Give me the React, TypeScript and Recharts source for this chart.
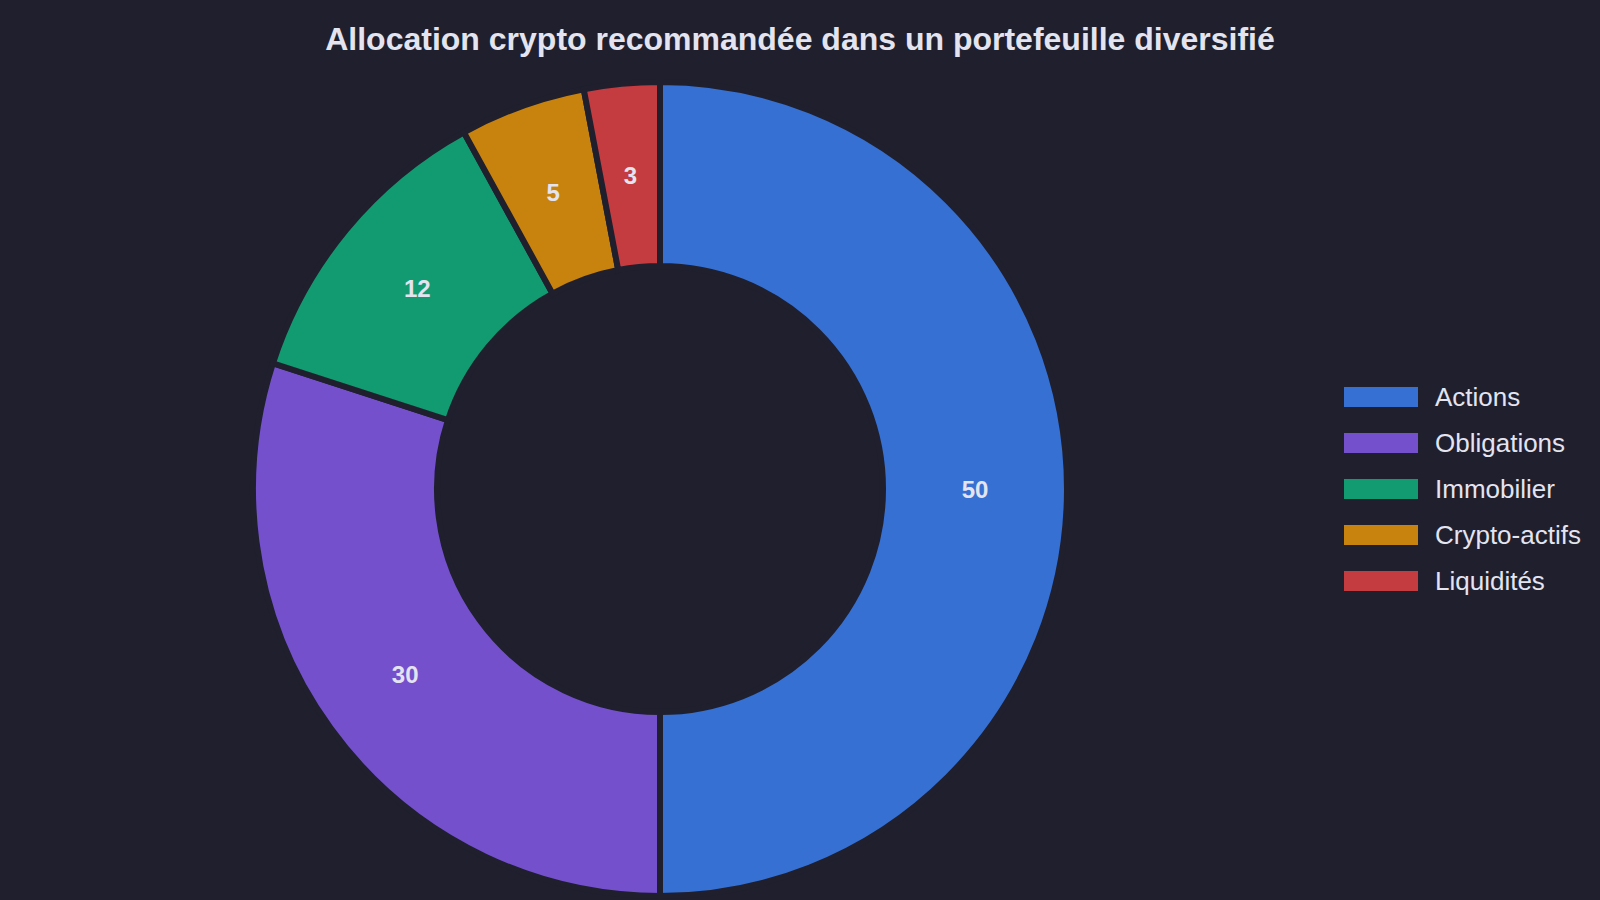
import React from 'react';
import { PieChart, Pie, Cell, Legend } from 'recharts';

const categories = ['Actions', 'Obligations', 'Immobilier', 'Crypto-actifs', 'Liquidités'];
const allocation = [50, 30, 12, 5, 3];
const colors = ['#3570D2', '#7450CC', '#129B71', '#C8830F', '#C43C40'];

const BG = '#1F1F2E';
const TEXT = '#E4E4F0';
const FONT = '"Liberation Sans", Arial, Helvetica, sans-serif';

const data = categories.map((name, i) => ({ name, value: allocation[i] }));

const RAD = Math.PI / 180;

function SliceLabel(props: any) {
  const { cx, cy, midAngle, innerRadius, outerRadius, value } = props;
  const r = (innerRadius + outerRadius) / 2;
  const x = cx + r * Math.cos(-midAngle * RAD);
  const y = cy + r * Math.sin(-midAngle * RAD);
  return (
    <text
      x={x}
      y={y}
      fill={TEXT}
      textAnchor="middle"
      dominantBaseline="central"
      fontSize={24}
      fontWeight={700}
      fontFamily={FONT}
    >
      {value}
    </text>
  );
}

// legend in the data order (recharts sorts by name otherwise)
function LegendBox() {
  return (
    <div style={{ fontFamily: FONT }}>
      {categories.map((name, i) => (
        <div key={name} style={{ display: 'flex', alignItems: 'center', height: 46 }}>
          <span style={{ display: 'inline-block', width: 74, height: 20, background: colors[i], marginRight: 17 }} />
          <span style={{ color: TEXT, fontSize: 26 }}>{name}</span>
        </div>
      ))}
    </div>
  );
}

export default function App() {
  return (
    <div style={{ position: 'absolute', left: 0, top: 0, width: 1600, height: 900, background: BG, overflow: 'hidden' }}>
      <div
        style={{
          position: 'absolute',
          top: 21,
          left: 0,
          width: 1600,
          textAlign: 'center',
          color: TEXT,
          fontFamily: FONT,
          fontWeight: 700,
          fontSize: 32,
        }}
      >
        Allocation crypto recommandée dans un portefeuille diversifié
      </div>
      <div style={{ position: 'absolute', left: 0, top: 0 }}>
        <PieChart width={1600} height={900} margin={{ top: 0, right: 0, bottom: 0, left: 0 }}>
          <Pie
            data={data}
            dataKey="value"
            nameKey="name"
            cx={660}
            cy={489}
            innerRadius={223}
            outerRadius={407}
            startAngle={90}
            endAngle={-270}
            stroke={BG}
            strokeWidth={6}
            label={SliceLabel}
            labelLine={false}
            isAnimationActive={false}
          >
            {data.map((d, i) => (
              <Cell key={d.name} fill={colors[i]} />
            ))}
          </Pie>
          <Legend
            layout="vertical"
            align="right"
            verticalAlign="middle"
            content={LegendBox}
            wrapperStyle={{ left: 1344, top: 374, width: 256 }}
          />
        </PieChart>
      </div>
    </div>
  );
}
